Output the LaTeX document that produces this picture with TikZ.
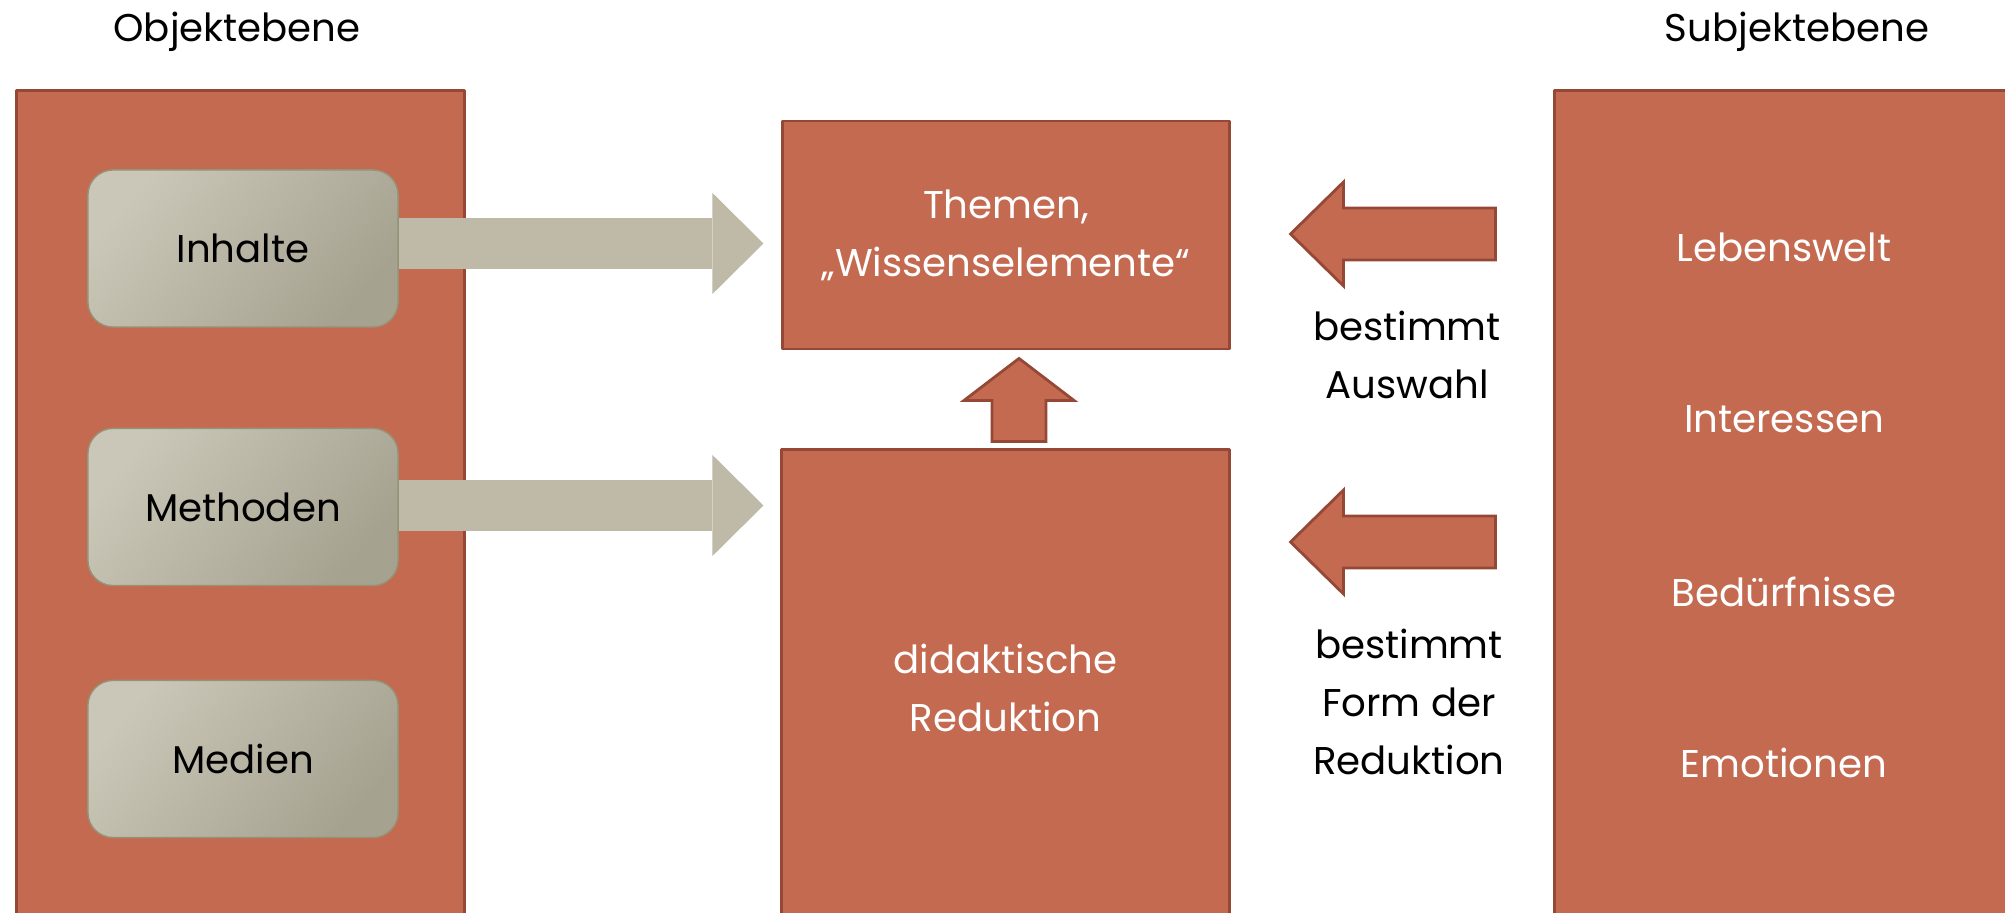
\documentclass[tikz,border=0pt]{standalone}
\usepackage{fontspec}
\setmainfont{Poppins}
\usetikzlibrary{calc,arrows.meta}
\definecolor{ziegel}{RGB}{196,106,81}
\definecolor{ziegelrand}{RGB}{150,72,54}
\definecolor{sand}{RGB}{191,185,168}
\definecolor{sandhell}{RGB}{203,199,184}
\definecolor{sanddunkel}{RGB}{166,162,144}
\definecolor{sandrand}{RGB}{150,146,118}
\tikzset{
	ebene/.style={draw=ziegelrand, fill=ziegel, line width=0.8pt, inner sep=0pt, text=white, align=center},
	kachel/.style={draw=sandrand, line width=0.4pt, top color=sandhell, bottom color=sanddunkel, shading angle=50, rounded corners=0.25cm, inner sep=0pt, minimum width=3.1cm, minimum height=1.57cm},
	pfeilgrau/.style={draw=sand, line width=0.51cm, -{Triangle[length=0.51cm, width=1.01cm, line width=0pt]}},
	pfeilrot/.style={draw=ziegelrand, fill=ziegel, line width=0.8pt, line join=miter},
	weiss/.style={text=white, anchor=base}
}
\begin{document}
\begin{tikzpicture}[x=0.01cm, y=-0.01cm, font=\fontsize{11}{16.5}\selectfont, line join=round]
	\useasboundingbox (0,0) rectangle (2005,913);
	\clip (0,0) rectangle (2005,913);
	\node (objtitel) at (237,42) [anchor=base] {Objektebene};
	\node (subtitel) at (1797,42) [anchor=base] {Subjektebene};
	\node[ebene, minimum width=4.47cm, minimum height=8.49cm] (objekt) at (240.5,515.5) {};
	\node[ebene, minimum width=4.65cm, minimum height=8.49cm] (subjekt) at (1787.5,515.5) {};
	\node[ebene, minimum width=4.46cm, minimum height=2.28cm] (themen) at (1006,235) {Themen,\\„Wissenselemente“};
	\node[ebene, minimum width=4.47cm, minimum height=4.75cm] (reduktion) at (1005.5,687.5) {didaktische\\Reduktion};
	\node[kachel] (inhalte) at (243,248.5) {Inhalte};
	\node[kachel] (methoden) at (243,507) {Methoden};
	\node[kachel] (medien) at (243,759) {Medien};
	\coordinate (spitzeA) at ($(themen.west)+(-18,8.5)$);
	\coordinate (spitzeB) at ($(reduktion.west |- methoden.east)+(-17,-1.5)$);
	\draw[pfeilgrau] (inhalte.east |- spitzeA) -- (spitzeA);
	\draw[pfeilgrau] (methoden.east |- spitzeB) -- (spitzeB);
	\coordinate (spitzeH) at ($(themen.south)+(13,8)$);
	\draw[pfeilrot] (spitzeH) -- ++(55,42) -- ++(-28,0) -- ++(0,41) -- ++(-54,0) -- ++(0,-41) -- ++(-28,0) -- cycle;
	\coordinate (spitzeC) at ($(themen.east)+(60,-1)$);
	\coordinate (endeC) at ($(subjekt.west |- spitzeC)+(-58,0)$);
	\draw[pfeilrot] (spitzeC) -- ++(53,-52) -- ++(0,26) -- ($(endeC)+(0,-26)$) -- ++(0,52) -- ($(spitzeC)+(53,26)$) -- ++(0,26) -- cycle;
	\coordinate (spitzeD) at ($(reduktion.east |- 0,542)+(60,0)$);
	\coordinate (endeD) at ($(subjekt.west |- spitzeD)+(-58,0)$);
	\draw[pfeilrot] (spitzeD) -- ++(53,-52) -- ++(0,26) -- ($(endeD)+(0,-26)$) -- ++(0,52) -- ($(spitzeD)+(53,26)$) -- ++(0,26) -- cycle;
	\node[align=center] (auswahl) at (1407,355) {bestimmt\\Auswahl};
	\node[align=center] (form) at (1409,702) {bestimmt\\Form der\\Reduktion};
	\node[weiss] (lebenswelt) at (1784,262) {Lebenswelt};
	\node[weiss] (interessen) at (1784,433) {Interessen};
	\node[weiss] (beduerfnisse) at (1784,607) {Bedürfnisse};
	\node[weiss] (emotionen) at (1784,778) {Emotionen};
\end{tikzpicture}
\end{document}
